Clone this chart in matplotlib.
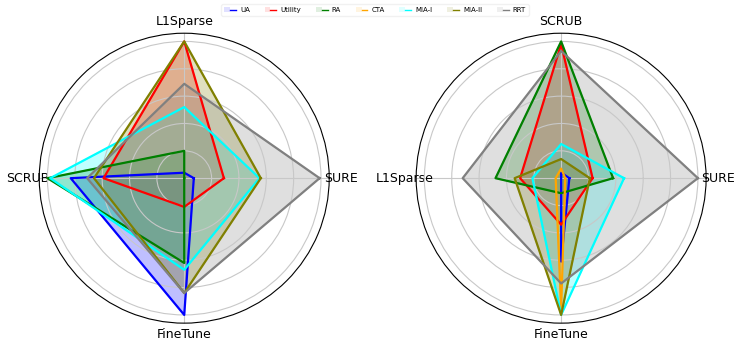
import numpy as np
import matplotlib
matplotlib.use("Agg")
import matplotlib.pyplot as plt
from matplotlib.lines import Line2D
from matplotlib.patches import Patch
from matplotlib.legend_handler import HandlerTuple

methods = ["UA", "Utility", "RA", "CTA", "MIA-I", "MIA-II", "RRT"]
colors = ["blue", "red", "green", "orange", "cyan", "olive", "gray"]

# axis order goes counter-clockwise starting from the right (theta = 0)
left_axes_names = ["SURE", "L1Sparse", "SCRUB", "FineTune"]
left_scores = {
    "UA":      [0.07, 0.04, 0.83, 1.00],
    "Utility": [0.29, 1.00, 0.59, 0.21],
    "RA":      [0.00, 0.20, 1.00, 0.62],
    "CTA":     [0.00, 0.00, 0.00, 0.00],
    "MIA-I":   [0.55, 0.52, 0.98, 0.67],
    "MIA-II":  [0.56, 1.00, 0.66, 0.84],
    "RRT":     [0.99, 0.69, 0.71, 0.84],
}

right_axes_names = ["SURE", "SCRUB", "L1Sparse", "FineTune"]
right_scores = {
    "UA":      [0.06, 0.04, 0.00, 0.61],
    "Utility": [0.23, 0.98, 0.30, 0.34],
    "RA":      [0.38, 1.00, 0.48, 0.11],
    "CTA":     [0.03, 0.07, 0.04, 0.95],
    "MIA-I":   [0.46, 0.25, 0.21, 1.00],
    "MIA-II":  [0.21, 0.14, 0.34, 1.00],
    "RRT":     [1.00, 0.93, 0.72, 0.77],
}


def radar(ax, names, scores):
    n = len(names)
    angles = np.linspace(0, 2 * np.pi, n, endpoint=False).tolist()
    angles += angles[:1]
    for m, c in zip(methods, colors):
        vals = list(scores[m]) + [scores[m][0]]
        ax.plot(angles, vals, color=c, linewidth=1.6)
        ax.fill(angles, vals, color=c, alpha=0.25)
    ax.set_xticks(angles[:-1])
    ax.set_xticklabels(names, fontsize=9)
    ax.set_yticks([0.2, 0.4, 0.6, 0.8, 1.0])
    ax.set_yticklabels([])
    ax.set_ylim(0, 1.06)
    ax.grid(color="#c8c8c8", linewidth=0.8)
    ax.spines["polar"].set_linewidth(0.8)
    ax.tick_params(axis="x", pad=-2)


fig = plt.figure(figsize=(7.34, 3.42), dpi=100)
ax1 = fig.add_axes([0.0535, 0.055, 0.395, 0.848], projection="polar")
ax2 = fig.add_axes([0.567, 0.055, 0.395, 0.848], projection="polar")
radar(ax1, left_axes_names, left_scores)
radar(ax2, right_axes_names, right_scores)

# legend keys: thin line over a faint patch of the same colour
handles = [(Patch(facecolor=c, alpha=0.12, linewidth=0), Line2D([], [], color=c, linewidth=1.0))
           for c in colors]
fig.legend(handles, methods, loc="upper center", ncol=7, fontsize=5,
           bbox_to_anchor=(0.511, 0.998), framealpha=0.8, edgecolor="#eeeeee",
           handler_map={tuple: HandlerTuple(ndivide=None, pad=0)},
           handlelength=1.7, handletextpad=0.6, columnspacing=2.1)

fig.savefig("out.png", dpi=100)
